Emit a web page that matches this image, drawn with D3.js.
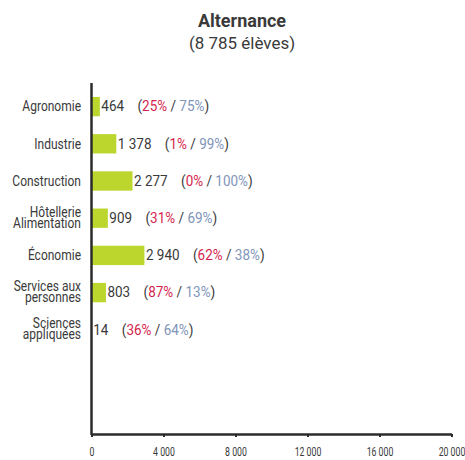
<!DOCTYPE html>
<html><head><meta charset="utf-8">
<script src="https://cdn.jsdelivr.net/npm/d3@7"></script>
<style>
body{margin:0;background:#fff;}
text{font-family:Roboto,"Open Sans",sans-serif;}
</style></head>
<body><svg id="c" width="465" height="460"></svg>
<script>
const categories = [["Agronomie"],["Industrie"],["Construction"],["Hôtellerie","Alimentation"],["Économie"],["Services aux","personnes"],["Sciences","appliquées"]];
const values = [464, 1378, 2277, 909, 2940, 803, 14];
const valueLabels = ["464","1 378","2 277","909","2 940","803","14"];
const pctA = ["25%","1%","0%","31%","62%","87%","36%"];
const pctB = ["75%","99%","100%","69%","38%","13%","64%"];
const xTicks = [0,4000,8000,12000,16000,20000];
const xTickLabels = ["0","4 000","8 000","12 000","16 000","20 000"];
const title = "Alternance";
const subtitle = "(8 785 élèves)";

const svg = d3.select("#c");
const x = d3.scaleLinear().domain([0,20000]).range([91.5,451.5]);
const y = d3.scaleBand().domain(d3.range(categories.length)).range([88,348.4]).paddingInner(0.48).paddingOuter(0.24);
const txt = "#3a3a3a";
const SX = 0.8;

svg.append("text").attr("transform","translate(242,26.7)").attr("text-anchor","middle")
  .attr("font-size",18).attr("font-weight","bold").attr("fill",txt).text(title);
svg.append("text").attr("transform","translate(242,49) scale(1.03,1)").attr("text-anchor","middle")
  .attr("font-size",16.5).attr("fill",txt).text(subtitle);

svg.selectAll("rect.bar").data(values).join("rect").attr("class","bar")
  .attr("x",x(0)).attr("y",(d,i)=>y(i)).attr("width",d=>x(d)-x(0)).attr("height",y.bandwidth())
  .attr("fill","#bdd62e");

const lab = svg.selectAll("text.val").data(values).join("text").attr("class","val")
  .attr("transform",(d,i)=>`translate(${x(d)+1.5},${y(i)+y.bandwidth()/2+4.8}) scale(0.9,1)`)
  .attr("font-size",15).attr("fill",txt).style("white-space","pre");
lab.append("tspan").text((d,i)=>valueLabels[i]+"    (");
lab.append("tspan").attr("fill","#d41f4e").text((d,i)=>pctA[i]);
lab.append("tspan").text(" / ");
lab.append("tspan").attr("fill","#7f95ba").text((d,i)=>pctB[i]);
lab.append("tspan").text(")");

categories.forEach((c,i)=>{
  const cy = y(i)+y.bandwidth()/2;
  const t = svg.append("text").attr("text-anchor","end").attr("font-size",15).attr("fill",txt)
    .attr("transform",`translate(81,${cy}) scale(${SX},1)`);
  if(c.length===1){
    t.append("tspan").attr("x",0).attr("y",4.8).text(c[0]);
  } else {
    t.append("tspan").attr("x",0).attr("y",-1.5).text(c[0]);
    t.append("tspan").attr("x",0).attr("y",9.3).text(c[1]);
  }
});

const xa = svg.append("g").attr("transform","translate(0,434)")
  .call(d3.axisBottom(x).tickValues(xTicks).tickFormat((d,i)=>xTickLabels[i]).tickSize(3).tickSizeOuter(0));
xa.select(".domain").attr("stroke","#2b2b2b").attr("stroke-width",2.5);
xa.selectAll(".tick line").attr("stroke","#2b2b2b").attr("stroke-width",2);
xa.selectAll(".tick text").attr("font-size",12.5).attr("fill",txt).attr("y",22.5).attr("dy",null)
  .attr("font-family","Roboto,sans-serif").attr("transform","scale(0.7,1)");

svg.append("line").attr("x1",x(0)).attr("x2",x(0)).attr("y1",83).attr("y2",435)
  .attr("stroke","#2b2b2b").attr("stroke-width",2.5);
</script></body></html>
